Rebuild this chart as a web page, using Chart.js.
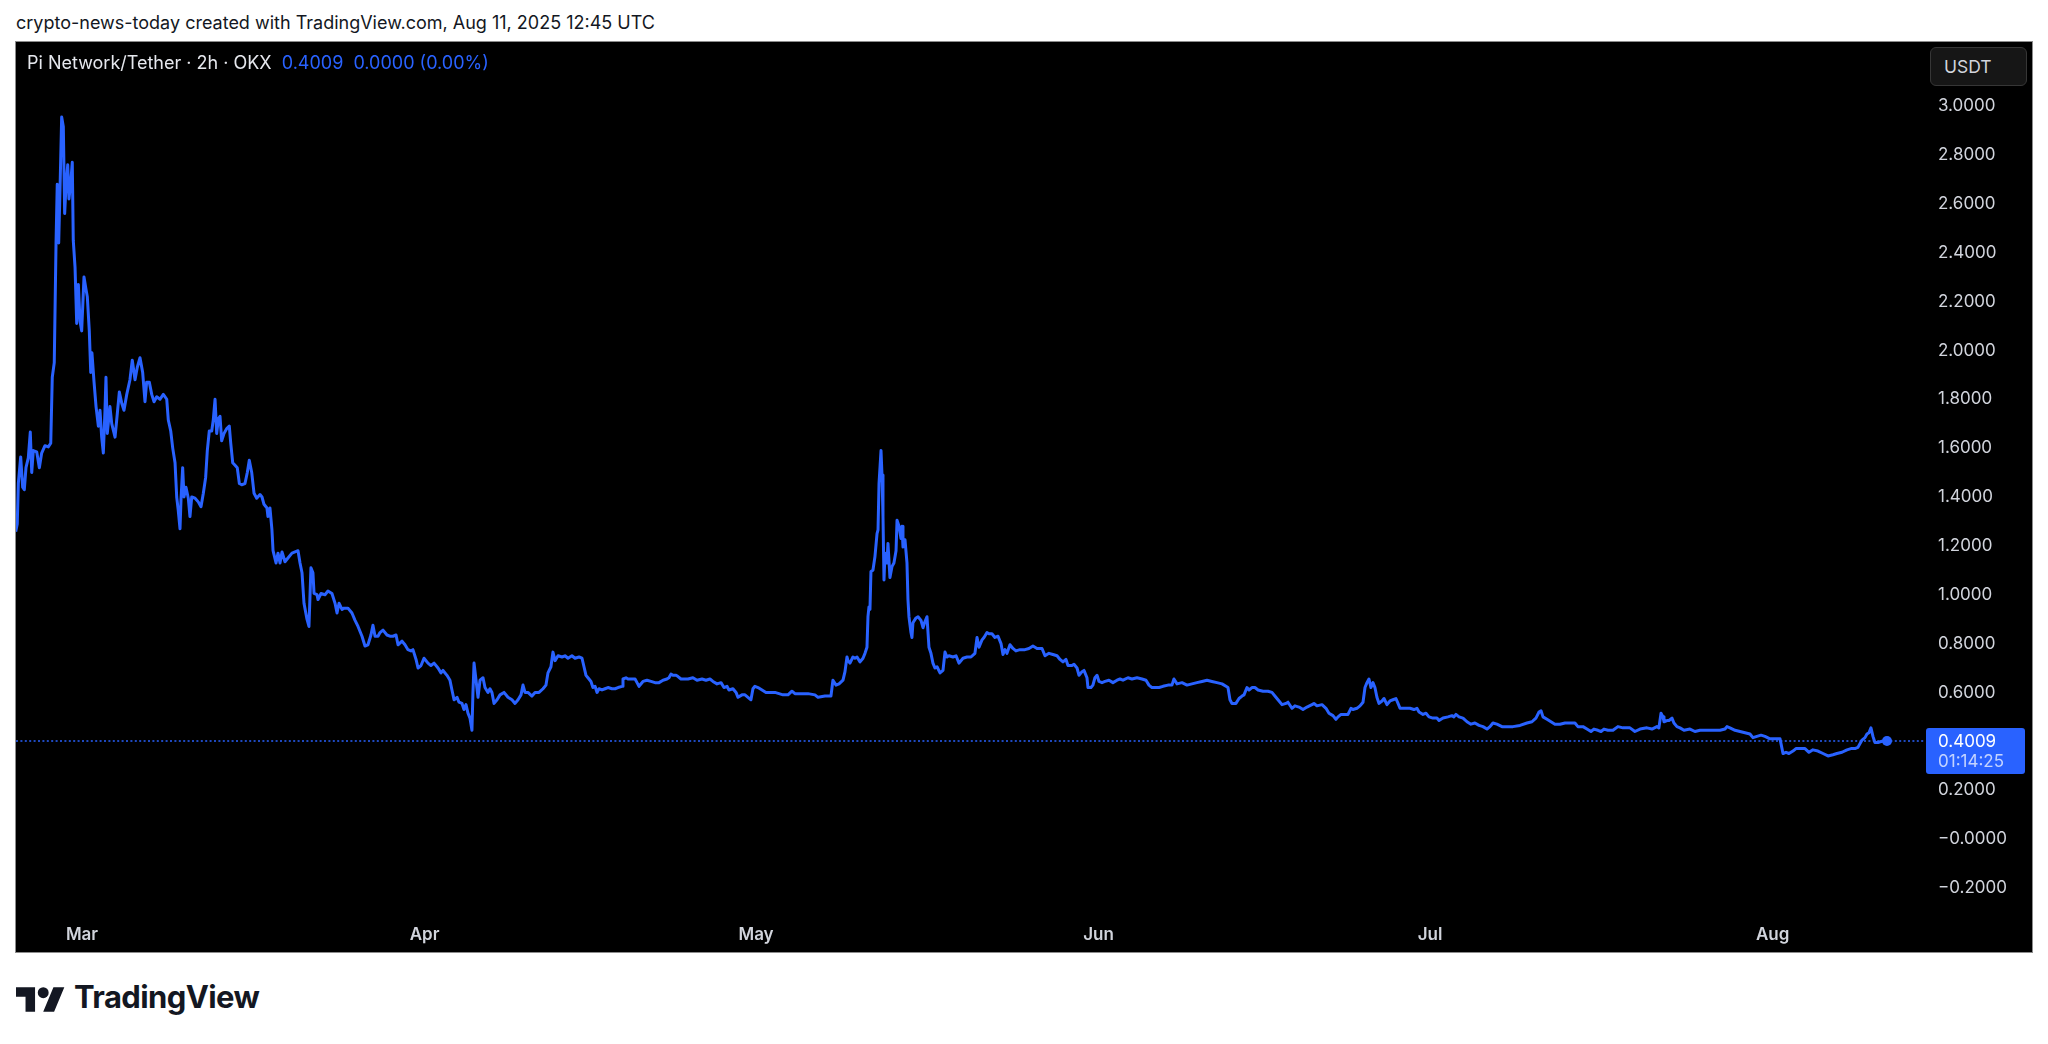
<!DOCTYPE html>
<html>
<head>
<meta charset="utf-8">
<title>Pi Network/Tether · 2h · OKX</title>
<script src="https://cdn.jsdelivr.net/npm/chart.js@4.4.1/dist/chart.umd.min.js"></script>
<style>
  html, body { margin: 0; padding: 0; background: #ffffff; }
  body { width: 2048px; height: 1044px; position: relative; overflow: hidden; font-family: Inter, "Noto Sans", sans-serif; }
  .credit { position: absolute; left: 16px; top: 12px; font-size: 18px; line-height: 22px; color: #131722; white-space: nowrap; }
  .frame { position: absolute; left: 15px; top: 41px; width: 2016px; height: 910px; border: 1px solid #8c8c8c; background: #000000; }
  .frame canvas { position: absolute; left: 0; top: 0; }
  .symbol { position: absolute; left: 11px; top: 10px; font-size: 18px; line-height: 22px; color: #e6e8ee; white-space: pre; }
  .symbol .val { color: #2962ff; }
  .unit { position: absolute; left: 1914px; top: 5px; width: 97px; height: 39px; box-sizing: border-box; border: 1px solid #363636; border-radius: 6px; background: #161616; color: #d1d4dc; font-size: 17.5px; line-height: 37px; padding-left: 13px; }
  .brand { position: absolute; left: 16px; top: 982px; height: 32px; }
  .brand svg { position: absolute; left: 0; top: 5px; }
  .brand span { position: absolute; left: 58px; top: 0; font-size: 31px; line-height: 30px; font-weight: 700; color: #131722; letter-spacing: -0.6px; white-space: nowrap; }
</style>
</head>
<body>
<div class="credit">crypto-news-today created with TradingView.com, Aug 11, 2025 12:45 UTC</div>
<div class="frame">
  <canvas id="price-chart" width="2016" height="910"></canvas>
  <div class="symbol">Pi Network/Tether · 2h · OKX  <span class="val">0.4009  0.0000 (0.00%)</span></div>
  <div class="unit">USDT</div>
</div>
<div class="brand">
  <svg width="49" height="25" viewBox="0 4 36 18"><path fill="#131722" d="M14 22H7V11H0V4h14v18zM28 22h-8l7.5-18h8L28 22z"/><circle fill="#131722" cx="20" cy="8" r="4"/></svg>
  <span>TradingView</span>
</div>
<script>
// --- Data ---
// Each point: [days since 2025-03-01 00:00 UTC, close price in USDT].
const febPoints = [
  [-6.00, 1.258], [-5.86, 1.29], [-5.76, 1.457], [-5.55, 1.564], [-5.37, 1.44], [-5.22, 1.43], [-5.07, 1.52], [-4.86, 1.56],
  [-4.68, 1.666], [-4.55, 1.50], [-4.41, 1.59], [-4.10, 1.585], [-3.86, 1.52], [-3.65, 1.58], [-3.35, 1.61], [-3.05, 1.605],
  [-2.83, 1.62], [-2.69, 1.89], [-2.51, 1.95], [-2.35, 2.44], [-2.24, 2.68], [-2.11, 2.44], [-1.99, 2.66], [-1.84, 2.955],
  [-1.69, 2.915], [-1.57, 2.56], [-1.45, 2.67], [-1.29, 2.76], [-1.18, 2.62], [-1.02, 2.685], [-0.88, 2.77], [-0.79, 2.45],
  [-0.63, 2.34], [-0.48, 2.11], [-0.33, 2.27], [-0.18, 2.12], [-0.03, 2.08]
];
const marPoints = [
  [0.18, 2.30], [0.36, 2.25], [0.48, 2.22], [0.66, 2.08], [0.79, 1.91], [0.90, 1.99], [1.09, 1.87], [1.27, 1.77],
  [1.48, 1.69], [1.63, 1.755], [1.78, 1.645], [1.93, 1.58], [2.08, 1.755], [2.17, 1.89], [2.29, 1.66], [2.53, 1.77],
  [2.69, 1.70], [2.99, 1.645], [3.14, 1.715], [3.38, 1.83], [3.59, 1.785], [3.80, 1.755], [4.05, 1.82], [4.34, 1.88],
  [4.55, 1.96], [4.80, 1.88], [5.00, 1.93], [5.25, 1.97], [5.49, 1.91], [5.70, 1.79], [5.85, 1.87], [6.09, 1.87],
  [6.31, 1.82], [6.52, 1.79], [6.76, 1.81], [7.06, 1.80], [7.36, 1.82], [7.67, 1.80], [7.81, 1.715], [8.03, 1.67],
  [8.21, 1.60], [8.42, 1.54], [8.57, 1.40], [8.71, 1.345], [8.87, 1.27], [8.96, 1.39], [9.11, 1.52], [9.23, 1.40],
  [9.41, 1.44], [9.62, 1.395], [9.77, 1.32], [9.93, 1.40], [10.23, 1.395], [10.52, 1.38], [10.77, 1.36], [10.98, 1.415],
  [11.19, 1.48], [11.34, 1.59], [11.52, 1.67], [11.74, 1.67], [11.88, 1.715], [12.04, 1.80], [12.19, 1.66], [12.34, 1.72],
  [12.49, 1.73], [12.64, 1.63], [12.85, 1.66], [13.10, 1.68], [13.33, 1.69], [13.46, 1.62], [13.64, 1.54], [13.85, 1.53],
  [14.05, 1.52], [14.24, 1.455], [14.45, 1.45], [14.75, 1.455], [14.96, 1.50], [15.14, 1.55], [15.36, 1.50], [15.57, 1.415],
  [15.81, 1.395], [16.11, 1.41], [16.29, 1.40], [16.47, 1.37], [16.74, 1.355], [16.83, 1.32], [17.01, 1.355], [17.19, 1.265],
  [17.29, 1.18], [17.56, 1.13], [17.74, 1.17], [17.92, 1.13], [18.10, 1.175], [18.37, 1.135], [18.64, 1.15], [19.00, 1.17],
  [19.28, 1.175], [19.55, 1.18], [19.73, 1.13], [19.91, 1.09], [20.09, 0.965], [20.36, 0.90], [20.54, 0.87], [20.72, 1.11],
  [20.90, 1.09], [21.00, 1.005], [21.27, 1.00], [21.36, 0.98], [21.63, 1.005], [21.99, 1.00], [22.26, 1.015], [22.62, 1.005],
  [22.90, 0.965], [23.08, 0.925], [23.26, 0.965], [23.53, 0.94], [23.71, 0.945], [24.07, 0.945], [24.43, 0.925], [24.71, 0.895],
  [24.98, 0.87], [25.34, 0.83], [25.61, 0.79], [25.88, 0.795], [26.15, 0.835], [26.33, 0.875], [26.52, 0.83], [26.79, 0.83],
  [26.97, 0.845], [27.24, 0.855], [27.60, 0.835], [27.87, 0.83], [28.14, 0.83], [28.42, 0.835], [28.60, 0.795], [28.96, 0.81],
  [29.23, 0.795], [29.50, 0.775], [29.77, 0.77], [29.95, 0.775], [30.23, 0.735], [30.41, 0.70], [30.68, 0.71], [30.95, 0.74]
];
const aprPoints = [
  [31.31, 0.72], [31.58, 0.71], [31.86, 0.72], [32.22, 0.70], [32.49, 0.68], [32.67, 0.69], [33.03, 0.67], [33.30, 0.65],
  [33.48, 0.61], [33.67, 0.57], [33.94, 0.58], [34.12, 0.56], [34.39, 0.555], [34.57, 0.53], [34.75, 0.55], [34.93, 0.515],
  [35.11, 0.495], [35.29, 0.445], [35.38, 0.60], [35.48, 0.72], [35.66, 0.65], [35.84, 0.58], [36.02, 0.65], [36.29, 0.66],
  [36.47, 0.62], [36.74, 0.60], [36.92, 0.615], [37.10, 0.60], [37.29, 0.555], [37.56, 0.57], [37.83, 0.59], [38.19, 0.60],
  [38.55, 0.58], [38.91, 0.57], [39.19, 0.555], [39.46, 0.57], [39.73, 0.59], [39.91, 0.63], [40.09, 0.60], [40.36, 0.60],
  [40.72, 0.585], [41.00, 0.60], [41.36, 0.60], [41.72, 0.615], [41.99, 0.63], [42.17, 0.68], [42.44, 0.705], [42.62, 0.765],
  [42.81, 0.73], [43.08, 0.75], [43.44, 0.745], [43.71, 0.75], [43.98, 0.74], [44.34, 0.75], [44.62, 0.74], [44.98, 0.745],
  [45.25, 0.74], [45.43, 0.705], [45.61, 0.67], [45.79, 0.66], [46.06, 0.645], [46.24, 0.62], [46.43, 0.625], [46.61, 0.60],
  [46.79, 0.615], [47.06, 0.61], [47.33, 0.615], [47.60, 0.62], [47.96, 0.615], [48.24, 0.615], [48.51, 0.62], [48.87, 0.625],
  [48.96, 0.655], [49.23, 0.66], [49.41, 0.655], [49.77, 0.655], [50.05, 0.655], [50.23, 0.64], [50.41, 0.625], [50.77, 0.645],
  [51.13, 0.65], [51.49, 0.645], [51.86, 0.64], [52.22, 0.64], [52.58, 0.65], [52.94, 0.655], [53.12, 0.66], [53.30, 0.675],
  [53.48, 0.67], [53.76, 0.67], [53.94, 0.665], [54.21, 0.655], [54.48, 0.655], [54.84, 0.655], [55.29, 0.66], [55.66, 0.65],
  [56.11, 0.655], [56.47, 0.65], [56.83, 0.655], [57.10, 0.645], [57.47, 0.635], [57.83, 0.64], [58.10, 0.62], [58.37, 0.625],
  [58.55, 0.61], [58.91, 0.615], [59.19, 0.60], [59.37, 0.58], [59.73, 0.59], [60.00, 0.59], [60.27, 0.58], [60.54, 0.57],
  [60.72, 0.615], [60.90, 0.625]
];
const mayPoints = [
  [61.18, 0.62], [61.54, 0.61], [61.90, 0.60], [62.26, 0.60], [62.71, 0.60], [63.08, 0.595], [63.44, 0.59], [63.89, 0.59],
  [64.25, 0.605], [64.52, 0.595], [65.16, 0.595], [65.70, 0.595], [66.33, 0.59], [66.61, 0.58], [67.24, 0.585], [67.78, 0.585],
  [67.96, 0.65], [68.24, 0.63], [68.51, 0.635], [68.87, 0.65], [69.05, 0.685], [69.23, 0.745], [69.32, 0.73], [69.50, 0.72],
  [69.77, 0.745], [69.95, 0.74], [70.14, 0.745], [70.41, 0.725], [70.68, 0.74], [70.86, 0.76], [71.04, 0.785], [71.13, 0.91],
  [71.22, 0.95], [71.31, 0.94], [71.40, 1.095], [71.58, 1.10], [71.76, 1.155], [71.95, 1.25], [72.04, 1.265], [72.13, 1.455],
  [72.31, 1.59], [72.40, 1.49], [72.49, 1.32], [72.58, 1.06], [72.67, 1.17], [72.85, 1.13], [72.94, 1.21], [73.12, 1.07],
  [73.30, 1.115], [73.48, 1.13], [73.67, 1.18], [73.76, 1.305], [73.94, 1.28], [74.12, 1.23], [74.21, 1.28], [74.30, 1.195],
  [74.48, 1.225], [74.66, 1.13], [74.75, 0.98], [74.84, 0.91], [75.02, 0.845], [75.11, 0.825], [75.20, 0.885], [75.48, 0.905],
  [75.66, 0.91], [75.93, 0.895], [76.11, 0.865], [76.29, 0.89], [76.47, 0.91], [76.65, 0.785], [76.83, 0.76], [77.01, 0.72],
  [77.19, 0.70], [77.38, 0.705], [77.65, 0.68], [77.92, 0.69], [78.10, 0.765], [78.28, 0.745], [78.46, 0.75], [78.82, 0.745],
  [79.10, 0.75], [79.37, 0.72], [79.73, 0.74], [80.09, 0.745], [80.45, 0.745], [80.81, 0.76], [81.00, 0.825], [81.18, 0.785],
  [81.45, 0.815], [81.63, 0.825], [81.90, 0.845], [82.08, 0.84], [82.35, 0.84], [82.62, 0.825], [82.90, 0.83], [83.17, 0.80],
  [83.35, 0.755], [83.53, 0.775], [83.71, 0.76], [83.98, 0.795], [84.25, 0.78], [84.52, 0.77], [84.89, 0.775], [85.34, 0.775],
  [85.70, 0.78], [86.06, 0.79], [86.43, 0.78], [86.88, 0.78], [87.15, 0.75], [87.51, 0.76], [87.87, 0.755], [88.24, 0.75],
  [88.51, 0.735], [88.78, 0.725], [89.05, 0.735], [89.23, 0.71], [89.59, 0.71], [89.77, 0.715], [90.05, 0.70], [90.23, 0.67],
  [90.50, 0.685], [90.68, 0.69], [90.95, 0.66], [91.04, 0.62], [91.31, 0.62], [91.49, 0.63], [91.67, 0.66], [91.86, 0.67]
];
const junPoints = [
  [92.04, 0.645], [92.31, 0.64], [92.58, 0.645], [92.94, 0.65], [93.30, 0.64], [93.67, 0.65], [93.94, 0.655], [94.21, 0.65],
  [94.66, 0.66], [95.02, 0.655], [95.48, 0.66], [95.93, 0.655], [96.29, 0.65], [96.56, 0.63], [96.83, 0.62], [97.10, 0.62],
  [97.47, 0.62], [97.83, 0.625], [98.28, 0.63], [98.64, 0.63], [98.82, 0.655], [99.10, 0.635], [99.55, 0.64], [100.00, 0.63],
  [100.45, 0.635], [100.90, 0.64], [101.36, 0.645], [101.81, 0.65], [102.26, 0.645], [102.71, 0.64], [103.17, 0.635], [103.53, 0.625],
  [103.71, 0.62], [103.89, 0.57], [104.07, 0.555], [104.43, 0.555], [104.71, 0.575], [104.98, 0.585], [105.16, 0.59], [105.43, 0.62],
  [105.61, 0.61], [105.88, 0.62], [106.15, 0.62], [106.43, 0.61], [106.88, 0.605], [107.33, 0.605], [107.69, 0.60], [108.05, 0.58],
  [108.33, 0.565], [108.60, 0.55], [108.96, 0.555], [109.14, 0.56], [109.50, 0.535], [109.77, 0.545], [110.14, 0.54], [110.50, 0.53],
  [110.86, 0.54], [111.31, 0.55], [111.49, 0.555], [111.76, 0.545], [112.22, 0.55], [112.58, 0.535], [112.85, 0.515], [113.21, 0.505],
  [113.48, 0.49], [113.67, 0.50], [113.94, 0.51], [114.30, 0.51], [114.57, 0.51], [114.84, 0.535], [115.02, 0.53], [115.38, 0.535],
  [115.66, 0.545], [115.93, 0.56], [116.11, 0.62], [116.29, 0.64], [116.47, 0.655], [116.65, 0.62], [116.83, 0.64], [117.01, 0.62],
  [117.19, 0.58], [117.38, 0.555], [117.65, 0.565], [117.83, 0.575], [118.10, 0.55], [118.37, 0.565], [118.64, 0.57], [118.91, 0.575],
  [119.10, 0.555], [119.28, 0.535], [119.73, 0.535], [120.18, 0.535], [120.54, 0.53], [120.81, 0.535], [121.00, 0.52], [121.36, 0.51],
  [121.63, 0.515], [121.90, 0.50]
];
const julPoints = [
  [122.26, 0.495], [122.62, 0.495], [122.81, 0.485], [123.17, 0.495], [123.62, 0.50], [123.98, 0.505], [124.16, 0.50], [124.34, 0.51],
  [124.62, 0.50], [124.98, 0.495], [125.34, 0.48], [125.70, 0.47], [126.06, 0.475], [126.43, 0.465], [126.79, 0.46], [127.15, 0.45],
  [127.42, 0.46], [127.69, 0.475], [128.05, 0.47], [128.51, 0.46], [128.96, 0.46], [129.50, 0.46], [130.14, 0.465], [130.77, 0.475],
  [131.22, 0.48], [131.58, 0.495], [131.86, 0.52], [132.04, 0.525], [132.22, 0.50], [132.58, 0.49], [132.94, 0.48], [133.30, 0.47],
  [133.76, 0.47], [134.21, 0.475], [134.66, 0.475], [135.11, 0.475], [135.38, 0.46], [135.84, 0.46], [136.20, 0.45], [136.56, 0.44],
  [136.83, 0.45], [137.19, 0.445], [137.47, 0.44], [137.74, 0.45], [138.10, 0.445], [138.55, 0.445], [139.00, 0.46], [139.46, 0.455],
  [140.09, 0.455], [140.54, 0.44], [141.00, 0.45], [141.63, 0.455], [142.08, 0.45], [142.53, 0.46], [142.71, 0.455], [142.90, 0.515],
  [143.08, 0.50], [143.17, 0.48], [143.44, 0.485], [143.62, 0.485], [143.89, 0.495], [144.07, 0.475], [144.34, 0.46], [144.62, 0.455],
  [144.98, 0.445], [145.52, 0.45], [145.97, 0.44], [146.43, 0.445], [147.06, 0.445], [147.60, 0.445], [148.24, 0.445], [148.69, 0.45],
  [148.87, 0.46], [149.14, 0.455], [149.60, 0.445], [150.05, 0.44], [150.50, 0.435], [150.95, 0.43], [151.22, 0.415], [151.58, 0.42],
  [151.95, 0.425], [152.31, 0.42], [152.76, 0.41]
];
const augPoints = [
  [153.21, 0.41], [153.67, 0.41], [153.85, 0.37], [153.94, 0.35], [154.21, 0.355], [154.48, 0.35], [154.84, 0.36], [155.11, 0.37],
  [155.48, 0.37], [155.93, 0.37], [156.29, 0.355], [156.65, 0.365], [157.10, 0.36], [157.56, 0.35], [158.01, 0.34], [158.46, 0.345],
  [158.82, 0.35], [159.28, 0.355], [159.73, 0.365], [160.09, 0.37], [160.45, 0.37], [160.72, 0.375], [161.09, 0.405], [161.36, 0.415],
  [161.54, 0.43], [161.72, 0.435], [161.90, 0.455], [162.08, 0.42], [162.26, 0.395], [162.53, 0.395], [162.90, 0.40], [163.17, 0.40],
  [163.35, 0.4009]
];

// Month ticks on the time axis (days since Mar 1)
const monthDays = [0, 31, 61, 92, 122, 153];
const monthLabels = ['Mar', 'Apr', 'May', 'Jun', 'Jul', 'Aug'];

// Price axis ticks (0.4000 is hidden behind the price tag, as in TradingView)
const priceTicks = [-0.2, 0, 0.2, 0.6, 0.8, 1.0, 1.2, 1.4, 1.6, 1.8, 2.0, 2.2, 2.4, 2.6, 2.8, 3.0];
const priceTickLabels = ['\u22120.2000', '\u22120.0000', '0.2000', '0.6000', '0.8000', '1.0000', '1.2000', '1.4000',
  '1.6000', '1.8000', '2.0000', '2.2000', '2.4000', '2.6000', '2.8000', '3.0000'];

const lastPrice = 0.4009;
const lastPriceLabel = '0.4009';
const countdownLabel = '01:14:25';

// Visible window
const dayMin = -5.973;
const dayMax = 166.70;
const priceMin = -0.2988;
const priceMax = 3.2624;

// --- Chart ---
const lineBlue = '#2962ff';
const axisText = '#d1d4dc';

const series = [...febPoints, ...marPoints, ...aprPoints, ...mayPoints, ...junPoints, ...julPoints, ...augPoints]
  .map(([x, y]) => ({ x, y }));

// price tag on the right scale, follows the last close
const priceTagPlugin = {
  id: 'priceTag',
  afterDatasetsDraw(chart) {
    const { ctx, scales: { y } } = chart;
    const py = y.getPixelForValue(lastPrice);
    ctx.save();
    ctx.fillStyle = lineBlue;
    ctx.beginPath();
    ctx.roundRect(y.left + 2, py - 13, 99, 46, 3);
    ctx.fill();
    ctx.font = '17px Inter';
    ctx.textAlign = 'left';
    ctx.textBaseline = 'middle';
    ctx.fillStyle = '#ffffff';
    ctx.fillText(lastPriceLabel, y.left + 14, py + 1);
    ctx.fillStyle = 'rgba(255, 255, 255, 0.72)';
    ctx.fillText(countdownLabel, y.left + 14, py + 21);
    ctx.restore();
  }
};

const ctx = document.getElementById('price-chart').getContext('2d');
const priceChart = new Chart(ctx, {
  type: 'line',
  data: {
    datasets: [{
      data: series,
      borderColor: lineBlue,
      borderWidth: 3,
      tension: 0,
      borderJoinStyle: 'round',
      pointRadius: (c) => (c.dataIndex === series.length - 1 ? 5 : 0),
      pointBackgroundColor: lineBlue,
      pointBorderWidth: 0,
      order: 0
    }, {
      data: [{ x: dayMin, y: lastPrice }, { x: dayMax, y: lastPrice }],
      borderColor: lineBlue,
      borderWidth: 1.4,
      borderDash: [2, 2.4],
      pointRadius: 0,
      order: 1
    }]
  },
  options: {
    responsive: false,
    animation: false,
    layout: { padding: 0, autoPadding: false },
    plugins: { legend: { display: false }, tooltip: { enabled: false } },
    scales: {
      x: {
        type: 'linear',
        min: dayMin,
        max: dayMax,
        grid: { display: false, drawTicks: false },
        border: { display: false },
        afterBuildTicks: (scale) => { scale.ticks = monthDays.map(v => ({ value: v })); },
        afterFit: (scale) => { scale.height = 40; scale.paddingLeft = 0; scale.paddingRight = 0; },
        ticks: {
          autoSkip: false,
          maxRotation: 0,
          padding: 13,
          color: axisText,
          font: { family: 'Inter', size: 17, weight: '600' },
          callback: (value) => monthLabels[monthDays.indexOf(value)]
        }
      },
      y: {
        position: 'right',
        min: priceMin,
        max: priceMax,
        grid: { display: false, drawTicks: false },
        border: { display: false },
        afterBuildTicks: (scale) => { scale.ticks = priceTicks.map(v => ({ value: v })); },
        afterFit: (scale) => { scale.width = 108; scale.paddingTop = 0; scale.paddingBottom = 0; },
        ticks: {
          autoSkip: false,
          padding: 14,
          color: axisText,
          font: { family: 'Inter', size: 17 },
          callback: (value) => priceTickLabels[priceTicks.indexOf(value)]
        }
      }
    }
  },
  plugins: [priceTagPlugin]
});
</script>
</body>
</html>
